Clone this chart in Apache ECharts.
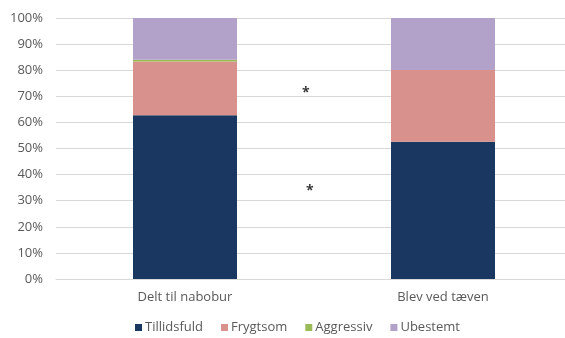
<!DOCTYPE html>
<html>
<head>
<meta charset="utf-8">
<script src="https://cdn.jsdelivr.net/npm/echarts@6/dist/echarts.min.js"></script>
<style>
html,body{margin:0;padding:0;background:#fff;overflow:hidden;width:565px;height:338px;}
#chart{width:580px;height:338px;}
</style>
</head>
<body>
<div id="chart"></div>
<script>
// Categories and shares (%) per temperament group
const categories = ['Delt til nabobur', 'Blev ved tæven'];
const tillidsfuld = [62.7, 52.6];
const frygtsom = [20.6, 27.5];
const aggressiv = [0.7, 0.0];
const ubestemt = [16.0, 19.9];
// Significance marks: [x position across the plot (0..1), y value in %]
const significance = [[0.484, 72.4], [0.492, 34.9]];

const seriesNames = ['Tillidsfuld', 'Frygtsom', 'Aggressiv', 'Ubestemt'];
const seriesData = [tillidsfuld, frygtsom, aggressiv, ubestemt];
const colors = ['#1a3761', '#d9918d', '#9bbb59', '#b2a2c9'];

const font = '"Open Sans", Arial, sans-serif';
const textColor = '#595959';

const chart = echarts.init(document.getElementById('chart'), null, {renderer: 'canvas'});

const bars = seriesNames.map((name, i) => ({
  name: name,
  type: 'bar',
  stack: 'total',
  barWidth: 104,
  xAxisIndex: 0,
  itemStyle: {color: colors[i]},
  data: seriesData[i]
}));

chart.setOption({
  animation: false,
  color: colors,
  grid: {left: 56, top: 18, width: 516, height: 261},
  legend: {
    data: seriesNames,
    top: 316,
    left: 130,
    itemWidth: 7,
    itemHeight: 7,
    itemGap: 18,
    icon: 'rect',
    textStyle: {color: textColor, fontSize: 13, fontFamily: font, padding: [0, 0, 0, -2]}
  },
  xAxis: [{
    type: 'category',
    data: categories,
    axisLine: {lineStyle: {color: '#d9d9d9', width: 1}},
    axisTick: {show: false},
    axisLabel: {color: textColor, fontSize: 13, fontFamily: font, margin: 12}
  }, {
    type: 'value',
    min: 0,
    max: 1,
    show: false
  }],
  yAxis: {
    type: 'value',
    min: 0,
    max: 100,
    interval: 10,
    axisLine: {show: false},
    axisTick: {show: false},
    splitLine: {lineStyle: {color: '#d9d9d9', width: 1}},
    axisLabel: {color: textColor, fontSize: 13, fontFamily: font, margin: 13, formatter: '{value}%'}
  },
  series: bars.concat([{
    type: 'scatter',
    xAxisIndex: 1,
    symbolSize: 0,
    silent: true,
    data: significance,
    label: {
      show: true,
      position: 'inside',
      formatter: '*',
      color: '#000',
      fontSize: 14,
      fontWeight: 'bold',
      fontFamily: font,
      offset: [0, 3]
    }
  }])
});
</script>
</body>
</html>
